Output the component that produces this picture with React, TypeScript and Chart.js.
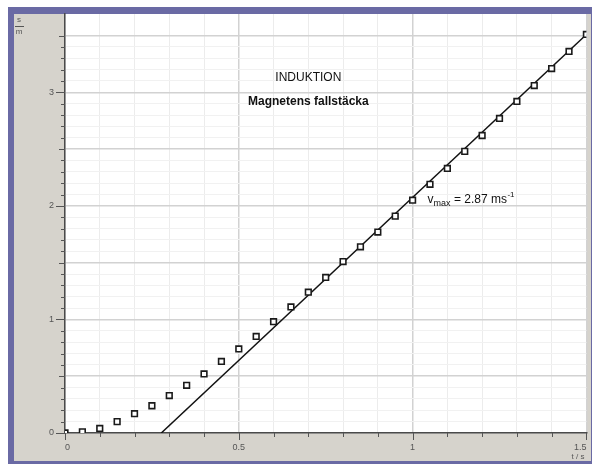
import { useEffect, useRef } from 'react';
import { Chart, registerables } from 'chart.js';

Chart.register(...registerables);

// Measured fall distance s (m) against time t (s)
const timeValues = [
  0, 0.05, 0.1, 0.15, 0.2, 0.25, 0.3, 0.35, 0.4, 0.45, 0.5, 0.55, 0.6, 0.65, 0.7, 0.75,
  0.8, 0.85, 0.9, 0.95, 1.0, 1.05, 1.1, 1.15, 1.2, 1.25, 1.3, 1.35, 1.4, 1.45, 1.5,
];
const distanceValues = [
  0.0, 0.01, 0.04, 0.1, 0.17, 0.24, 0.33, 0.42, 0.52, 0.63, 0.74, 0.85, 0.98, 1.11, 1.24, 1.37,
  1.51, 1.64, 1.77, 1.91, 2.05, 2.19, 2.33, 2.48, 2.62, 2.77, 2.92, 3.06, 3.21, 3.36, 3.51,
];
// Straight fit line (v_max = 2.87 m/s)
const fitTimes = [0.277, 1.5];
const fitDistances = [0, 3.51];

const xLabelValues = [0, 0.5, 1, 1.5];
const yLabelValues = [0, 1, 2, 3];
const titleLines = ['INDUKTION', 'Magnetens fallstäcka'];
const vmaxLabel = { main: 'v', sub: 'max', rest: ' = 2.87 ms', sup: '-1' };

const FONT = "'Liberation Sans', Arial, sans-serif";

const near = (a: number, b: number) => Math.abs(a - b) < 1e-6;
const isMultiple = (v: number, step: number) => near(v / step, Math.round(v / step));

const framePlugin = {
  id: 'frame',
  beforeDraw(chart: any) {
    const { ctx, chartArea } = chart;
    ctx.save();
    ctx.fillStyle = '#ffffff';
    ctx.fillRect(0, 0, chart.width, chart.height);
    ctx.fillStyle = '#6a6aa4';
    ctx.fillRect(8, 7, chart.width - 8, chart.height - 7);
    ctx.fillStyle = '#d6d3cc';
    ctx.fillRect(14, 14, chart.width - 1 - 14, chart.height - 3 - 14);
    ctx.fillStyle = '#ffffff';
    ctx.fillRect(chartArea.left, chartArea.top, chartArea.right - chartArea.left, chartArea.bottom - chartArea.top);
    ctx.restore();
  },
};

const marksPlugin = {
  id: 'marks',
  afterDraw(chart: any) {
    const { ctx, chartArea } = chart;
    const xs = chart.scales.x;
    const ys = chart.scales.y;
    ctx.save();
    ctx.strokeStyle = '#555555';
    ctx.lineWidth = 1;
    xs.ticks.forEach((t: any) => {
      if (!isMultiple(t.value, 0.1)) return;
      const px = Math.round(xs.getPixelForValue(t.value)) + 0.5;
      const len = isMultiple(t.value, 0.5) ? 7 : 4;
      ctx.beginPath();
      ctx.moveTo(px, chartArea.bottom);
      ctx.lineTo(px, chartArea.bottom + len);
      ctx.stroke();
    });
    ys.ticks.forEach((t: any) => {
      if (!isMultiple(t.value, 0.1)) return;
      const py = Math.round(ys.getPixelForValue(t.value)) + 0.5;
      const len = isMultiple(t.value, 1) ? 9 : isMultiple(t.value, 0.5) ? 6 : 4;
      ctx.beginPath();
      ctx.moveTo(chartArea.left - len, py);
      ctx.lineTo(chartArea.left, py);
      ctx.stroke();
    });

    // axis unit labels
    ctx.fillStyle = '#555555';
    ctx.font = `8px ${FONT}`;
    ctx.textAlign = 'center';
    ctx.textBaseline = 'middle';
    ctx.fillText('s', 19, 20);
    ctx.fillText('m', 19, 32);
    ctx.beginPath();
    ctx.moveTo(15, 26.5);
    ctx.lineTo(24, 26.5);
    ctx.stroke();
    ctx.textAlign = 'right';
    ctx.fillText('t / s', chartArea.right - 2, chartArea.bottom + 24);

    // title
    ctx.fillStyle = '#111111';
    ctx.textAlign = 'center';
    ctx.font = `12px ${FONT}`;
    ctx.fillText(titleLines[0], xs.getPixelForValue(0.7), ys.getPixelForValue(3.13));
    ctx.font = `bold 12px ${FONT}`;
    ctx.fillText(titleLines[1], xs.getPixelForValue(0.7), ys.getPixelForValue(2.92));

    // v_max annotation
    let px = xs.getPixelForValue(1.043);
    const py = ys.getPixelForValue(2.06);
    ctx.textAlign = 'left';
    ctx.textBaseline = 'alphabetic';
    ctx.font = `12px ${FONT}`;
    ctx.fillText(vmaxLabel.main, px, py + 4);
    px += ctx.measureText(vmaxLabel.main).width;
    ctx.font = `9px ${FONT}`;
    ctx.fillText(vmaxLabel.sub, px, py + 7);
    px += ctx.measureText(vmaxLabel.sub).width;
    ctx.font = `12px ${FONT}`;
    ctx.fillText(vmaxLabel.rest, px, py + 4);
    px += ctx.measureText(vmaxLabel.rest).width;
    ctx.font = `8px ${FONT}`;
    ctx.fillText(vmaxLabel.sup, px + 0.5, py - 2);
    ctx.restore();
  },
};

export default function App() {
  const canvasRef = useRef<HTMLCanvasElement | null>(null);

  useEffect(() => {
    if (!canvasRef.current) return;
    const points = timeValues.map((t, i) => ({ x: t, y: distanceValues[i] }));
    const fit = fitTimes.map((t, i) => ({ x: t, y: fitDistances[i] }));

    const chart = new Chart(canvasRef.current, {
      type: 'scatter',
      data: {
        datasets: [
          {
            label: 'fit',
            data: fit,
            showLine: true,
            borderColor: '#111111',
            borderWidth: 1.5,
            pointRadius: 0,
            order: 2,
          } as any,
          {
            label: 's',
            data: points,
            pointStyle: 'rect',
            pointRadius: 4,
            borderColor: '#1a1a1a',
            backgroundColor: '#ffffff',
            borderWidth: 1.6,
            order: 1,
          },
        ],
      },
      plugins: [framePlugin, marksPlugin],
      options: {
        animation: false,
        responsive: false,
        devicePixelRatio: 1,
        layout: { padding: { left: 0, top: 14, right: 2, bottom: 0 } },
        plugins: {
          legend: { display: false },
          tooltip: { enabled: false },
          title: { display: false },
        },
        scales: {
          x: {
            type: 'linear',
            min: 0,
            max: 1.5,
            afterFit: (scale: any) => {
              scale.height = 31;
              scale.paddingLeft = 0;
              scale.paddingRight = 0;
            },
            ticks: {
              stepSize: 0.1,
              autoSkip: false,
              maxRotation: 0,
              align: 'inner',
              padding: 9,
              color: '#555555',
              font: { family: FONT, size: 9 },
              callback: (v: any) => {
                const val = Number(v);
                const hit = xLabelValues.find((l) => near(l, val));
                return hit === undefined ? '' : String(hit);
              },
            },
            grid: {
              drawTicks: false,
              color: (c: any) => (isMultiple(c.tick.value, 0.5) ? '#d2d2d2' : '#ececec'),
              lineWidth: (c: any) => (isMultiple(c.tick.value, 0.5) ? 1.5 : 1),
            },
            border: { display: true, color: '#4a4a4a', width: 1.5 },
          },
          y: {
            type: 'linear',
            min: 0,
            max: 3.69,
            afterFit: (scale: any) => {
              scale.width = 65;
              scale.paddingTop = 0;
              scale.paddingBottom = 0;
            },
            ticks: {
              stepSize: 0.1,
              autoSkip: false,
              padding: 11,
              color: '#555555',
              font: { family: FONT, size: 9 },
              callback: (v: any) => {
                const val = Number(v);
                const hit = yLabelValues.find((l) => near(l, val));
                return hit === undefined ? '' : String(hit);
              },
            },
            grid: {
              drawTicks: false,
              color: (c: any) =>
                !isMultiple(c.tick.value, 0.1)
                  ? 'rgba(0,0,0,0)'
                  : isMultiple(c.tick.value, 0.5)
                  ? '#d2d2d2'
                  : '#f1f1f1',
              lineWidth: (c: any) => (isMultiple(c.tick.value, 0.5) ? 1.5 : 1),
            },
            border: { display: true, color: '#4a4a4a', width: 1.5 },
          },
        },
      } as any,
    });
    return () => chart.destroy();
  }, []);

  return (
    <div style={{ position: 'fixed', left: 0, top: 0, width: 592, height: 464 }}>
      <canvas ref={canvasRef} width={592} height={464} style={{ width: 592, height: 464 }} />
    </div>
  );
}
